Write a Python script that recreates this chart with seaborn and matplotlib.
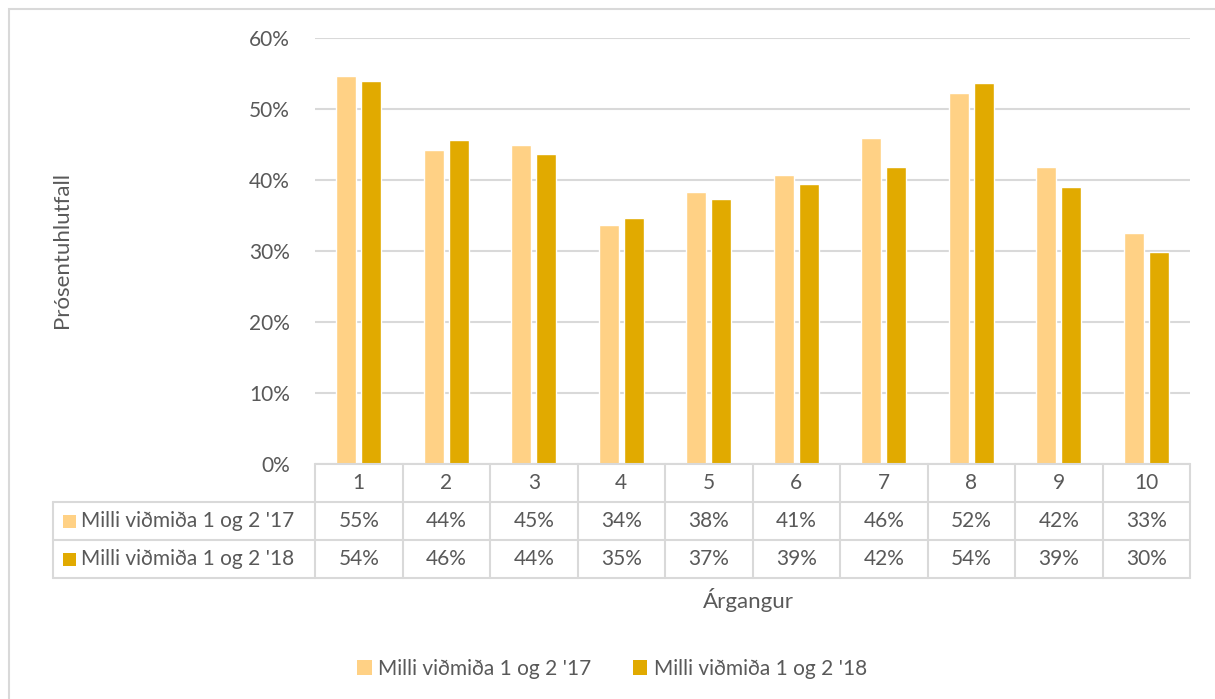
import pandas as pd
import seaborn as sns
import matplotlib.pyplot as plt
from matplotlib.patches import Rectangle
from matplotlib.ticker import FuncFormatter

# values (percent)
argangur = [1, 2, 3, 4, 5, 6, 7, 8, 9, 10]
v17 = [54.6, 44.2, 44.9, 33.6, 38.3, 40.7, 45.9, 52.2, 41.8, 32.6]
v18 = [54.0, 45.6, 43.6, 34.6, 37.3, 39.4, 41.8, 53.7, 39.0, 29.8]
series = ["Milli viðmiða 1 og 2 '17", "Milli viðmiða 1 og 2 '18"]
colors = ["#FFD185", "#E1AA00"]

txt = "#595959"
grid = "#D9D9D9"

df = pd.DataFrame({
    "Árgangur": [str(a) for a in argangur] * 2,
    "value": [v / 100 for v in v17 + v18],
    "series": [series[0]] * len(v17) + [series[1]] * len(v18),
})

sns.set_theme(style="white")
plt.rcParams["font.family"] = ["Lato", "DejaVu Sans"]
fs = 15

fig = plt.figure(figsize=(12.15, 6.99), dpi=100)
ax = fig.add_axes([315 / 1215, 1 - 464 / 699, 875 / 1215, 426 / 699])

sns.barplot(data=df, x="Árgangur", y="value", hue="series", palette=colors,
            width=0.57, gap=0.2, ax=ax, legend=False, saturation=1)

n = len(argangur)
ax.set_xlim(-0.5, n - 0.5)
ax.set_ylim(0, 0.6)
ax.set_yticks([0, 0.1, 0.2, 0.3, 0.4, 0.5, 0.6])
ax.yaxis.set_major_formatter(FuncFormatter(lambda v, p: f"{v * 100:.0f}%"))
ax.tick_params(axis="y", length=0, pad=18, labelsize=fs, labelcolor=txt)
ax.set_xticks([])
ax.set_xlabel("")
ax.set_ylabel("")
ax.yaxis.grid(True, color=grid, linewidth=1.5)
ax.set_axisbelow(True)
for s in ax.spines.values():
    s.set_visible(False)

# data table under the plot
rh = 38 / 426
left = (53 - 315) / 875
lk = dict(color=grid, linewidth=1.5, transform=ax.transAxes, clip_on=False)
ax.plot([0, 1], [0, 0], **lk)
for r in range(1, 4):
    ax.plot([left, 1], [-r * rh, -r * rh], **lk)
ax.plot([left, left], [-rh, -3 * rh], **lk)
for i in range(n + 1):
    ax.plot([i / n, i / n], [0, -3 * rh], **lk)

for i, a in enumerate(argangur):
    xc = (i + 0.5) / n
    ax.text(xc, -0.5 * rh, str(a), transform=ax.transAxes, ha="center",
            va="center", fontsize=fs, color=txt)
    ax.text(xc, -1.5 * rh, f"{v17[i]:.0f}%", transform=ax.transAxes,
            ha="center", va="center", fontsize=fs, color=txt)
    ax.text(xc, -2.5 * rh, f"{v18[i]:.0f}%", transform=ax.transAxes,
            ha="center", va="center", fontsize=fs, color=txt)

sq_w = 13 / 875
sq_h = 13 / 426
for r, (name, c) in enumerate(zip(series, colors)):
    yc = -(r + 1.5) * rh
    ax.add_patch(Rectangle(((63 - 315) / 875, yc - sq_h / 2), sq_w, sq_h,
                           facecolor=c, edgecolor="none",
                           transform=ax.transAxes, clip_on=False))
    ax.text((81 - 315) / 875, yc, name, transform=ax.transAxes, ha="left",
            va="center", fontsize=fs, color=txt)

fig.text(62 / 1215, 1 - 250 / 699, "Prósentuhlutfall", rotation=90,
         ha="center", va="center", fontsize=fs + 1, color=txt)
fig.text(748 / 1215, 1 - 600 / 699, "Árgangur", ha="center", va="center",
         fontsize=fs + 1, color=txt)

handles = [Rectangle((0, 0), 1, 1, facecolor=c, edgecolor="none") for c in colors]
fig.legend(handles, series, loc="center", bbox_to_anchor=(612 / 1215, 1 - 669 / 699),
           ncol=2, frameon=False, fontsize=fs, labelcolor=txt,
           handlelength=0.7, handleheight=0.7, handletextpad=0.3,
           columnspacing=2.0)

fig.patches.append(Rectangle((9 / 1215, -0.05), 1.1, 1 - 9 / 699 + 0.05,
                             transform=fig.transFigure, fill=False,
                             edgecolor=grid, linewidth=1.5))

fig.savefig("out.png", dpi=100)
